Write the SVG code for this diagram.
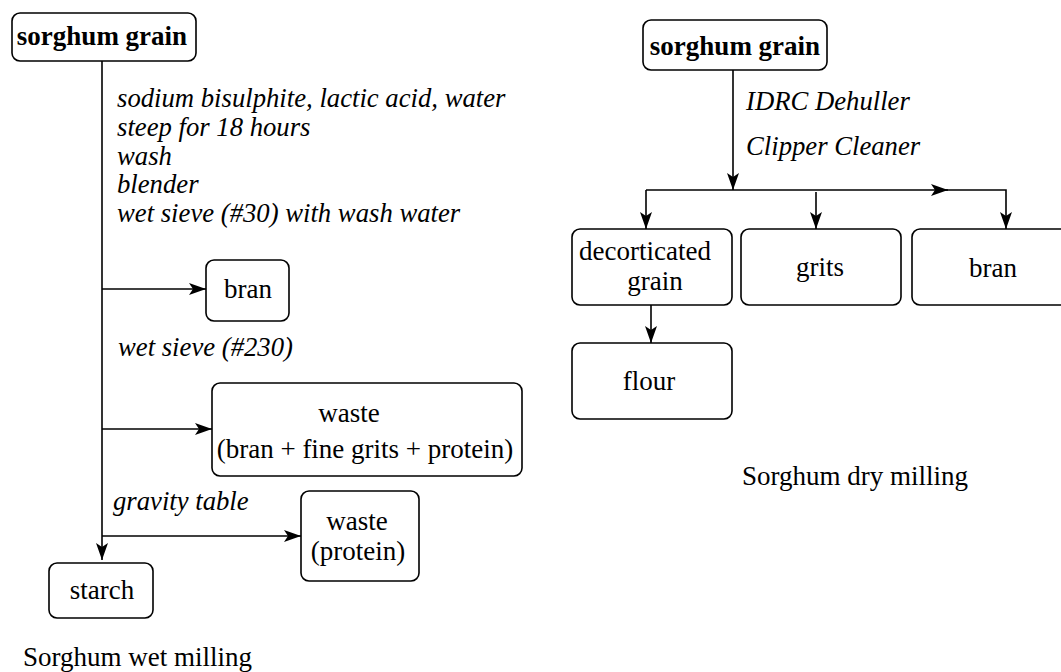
<svg xmlns="http://www.w3.org/2000/svg" width="1061" height="672" viewBox="0 0 1061 672">
  <style>
    .box { fill: #fff; stroke: #000; stroke-width: 1.6; }
    .line { fill: none; stroke: #000; stroke-width: 1.6; }
    text { font-family: 'Liberation Serif', 'Times New Roman', Times, serif; font-size: 27px; fill: #000; }
    text.it { font-style: italic; font-size: 26.7px; }
    text.bd { font-weight: bold; }
    text.c { text-anchor: middle; }
  </style>
  <defs>
    <marker id="arrow" viewBox="0 0 17 12" refX="17" refY="6" markerWidth="17" markerHeight="12" markerUnits="userSpaceOnUse" orient="auto">
      <path d="M0,0 L17,6 L0,12 L4,6 Z" fill="#000"/>
    </marker>
  </defs>

  <!-- connectors -->
  <g id="connectors">
    <!-- wet milling trunk -->
    <path class="line" d="M102,61 V560" marker-end="url(#arrow)"/>
    <path class="line" d="M102,289 H206" marker-end="url(#arrow)"/>
    <path class="line" d="M102,429 H212" marker-end="url(#arrow)"/>
    <path class="line" d="M102,536 H301" marker-end="url(#arrow)"/>
    <!-- dry milling -->
    <path class="line" d="M733,70 V190" marker-end="url(#arrow)"/>
    <path class="line" d="M646,190 H948" marker-end="url(#arrow)"/>
    <path class="line" d="M940,190 H1006 V229" marker-end="url(#arrow)"/>
    <path class="line" d="M646,190 V229" marker-end="url(#arrow)"/>
    <path class="line" d="M816,192 V229" marker-end="url(#arrow)"/>
    <path class="line" d="M651,305 V343" marker-end="url(#arrow)"/>
  </g>

  <!-- wet milling nodes -->
  <g id="wet-grain">
    <rect class="box" x="12" y="13" width="184" height="48" rx="8"/>
    <text class="bd c" x="102" y="45">sorghum grain</text>
  </g>
  <g id="wet-steps">
    <text class="it" x="117" y="107">sodium bisulphite, lactic acid, water</text>
    <text class="it" x="117" y="136">steep for 18 hours</text>
    <text class="it" x="117" y="165">wash</text>
    <text class="it" x="117" y="193">blender</text>
    <text class="it" x="117" y="222">wet sieve (#30) with wash water</text>
  </g>
  <g id="wet-bran">
    <rect class="box" x="206" y="260" width="83" height="61" rx="8"/>
    <text class="c" x="248" y="298">bran</text>
  </g>
  <g id="wet-sieve-230">
    <text class="it" x="118" y="356">wet sieve (#230)</text>
  </g>
  <g id="waste-fine">
    <rect class="box" x="212" y="383" width="310" height="93" rx="8"/>
    <text class="c" x="349" y="422">waste</text>
    <text class="c" x="365" y="458">(bran + fine grits + protein)</text>
  </g>
  <g id="gravity-table">
    <text class="it" x="113" y="510">gravity table</text>
  </g>
  <g id="waste-protein">
    <rect class="box" x="301" y="491" width="118" height="90" rx="8"/>
    <text class="c" x="357" y="530">waste</text>
    <text class="c" x="358" y="560">(protein)</text>
  </g>
  <g id="starch">
    <rect class="box" x="49" y="563" width="104" height="55" rx="8"/>
    <text class="c" x="102" y="599">starch</text>
  </g>
  <g id="wet-title">
    <text x="23" y="666">Sorghum wet milling</text>
  </g>

  <!-- dry milling nodes -->
  <g id="dry-grain">
    <rect class="box" x="643" y="20" width="184" height="50" rx="8"/>
    <text class="bd c" x="735" y="55">sorghum grain</text>
  </g>
  <g id="dry-steps">
    <text class="it" x="746" y="110">IDRC Dehuller</text>
    <text class="it" x="746" y="155">Clipper Cleaner</text>
  </g>
  <g id="decorticated">
    <rect class="box" x="572" y="229" width="160" height="76" rx="8"/>
    <text class="c" x="645" y="260">decorticated</text>
    <text class="c" x="655" y="290">grain</text>
  </g>
  <g id="grits">
    <rect class="box" x="741" y="229" width="160" height="76" rx="8"/>
    <text class="c" x="820" y="276">grits</text>
  </g>
  <g id="dry-bran">
    <rect class="box" x="912" y="229" width="160" height="76" rx="8"/>
    <text class="c" x="993" y="277">bran</text>
  </g>
  <g id="flour">
    <rect class="box" x="572" y="343" width="160" height="76" rx="8"/>
    <text class="c" x="649" y="390">flour</text>
  </g>
  <g id="dry-title">
    <text x="742" y="485">Sorghum dry milling</text>
  </g>
</svg>
